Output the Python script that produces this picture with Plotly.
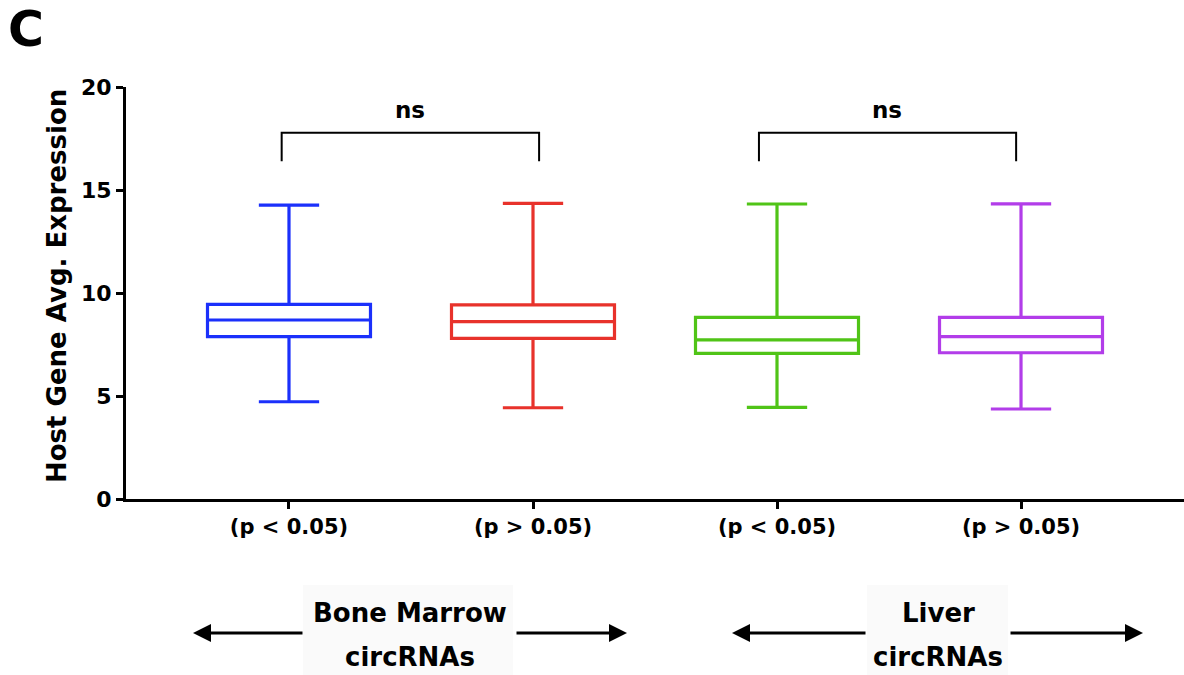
import plotly.graph_objects as go

# Box summary statistics per group
categories = ["(p < 0.05)", "(p > 0.05)", "(p < 0.05)", "(p > 0.05)"]
lower_whisker = [4.72, 4.43, 4.45, 4.37]
q1 = [7.88, 7.80, 7.07, 7.10]
median = [8.69, 8.61, 7.72, 7.88]
q3 = [9.45, 9.42, 8.82, 8.82]
upper_whisker = [14.27, 14.35, 14.32, 14.33]

y_ticks = [0, 5, 10, 15, 20]
group_lines = [("Bone Marrow", "circRNAs"), ("Liver", "circRNAs")]

colors = ["#1b30fb", "#e8322b", "#50c417", "#b23de9"]
FONT = "DejaVu Sans"

# pixel helpers for the plotting area (left 126, bottom 499, 1058 x 412)
def px_x(p):
    return (p - 289) / 244

def px_py(p):
    return (499 - p) / 412

def px_px(p):
    return (p - 126) / 1058

fig = go.Figure()
for i, cat in enumerate(categories):
    fig.add_trace(go.Box(
        x=[i],
        q1=[q1[i]], median=[median[i]], q3=[q3[i]],
        lowerfence=[lower_whisker[i]], upperfence=[upper_whisker[i]],
        width=0.668, whiskerwidth=0.37,
        line=dict(color=colors[i], width=3.2),
        fillcolor="rgba(0,0,0,0)",
        boxpoints=False, hoverinfo="skip", showlegend=False,
    ))

# significance brackets
brackets = [(-0.03, 1.025, 0.496), (1.926, 2.98, 2.45)]
for x0, x1, xm in brackets:
    fig.add_shape(type="path",
                  path=f"M {x0} 16.4 L {x0} 17.78 L {x1} 17.78 L {x1} 16.4",
                  line=dict(color="black", width=2), xref="x", yref="y")
    fig.add_annotation(x=xm, y=18.9, xref="x", yref="y", text="ns", showarrow=False,
                       font=dict(family=FONT, size=23, color="black", weight="bold"))

# group labels with arrows below the axis
group_specs = [
    (410, 303, 513, 193, 304, 515, 627),
    (938, 867, 1008, 732, 867, 1009, 1143),
]
arrow_y = px_py(633)
for (xc, bg0, bg1, l_head, l_tail, r_tail, r_head), (line1, line2) in zip(group_specs, group_lines):
    fig.add_shape(type="rect", xref="x", yref="paper",
                  x0=px_x(bg0), x1=px_x(bg1), y0=px_py(676), y1=px_py(585),
                  line=dict(width=0), fillcolor="#fafafa", layer="below")
    for text, yp in [(line1, 613), (line2, 657)]:
        fig.add_annotation(x=px_x(xc), y=px_py(yp), xref="x", yref="paper", text=text,
                           showarrow=False, yanchor="middle",
                           font=dict(family=FONT, size=26, color="black", weight="bold"))
    for head, tail in [(l_head, l_tail), (r_head, r_tail)]:
        fig.add_annotation(x=px_x(head), y=arrow_y, ax=px_x(tail), ay=0,
                           xref="x", yref="paper", axref="x", ayref="pixel",
                           text="", showarrow=True, arrowhead=2, arrowsize=1.2,
                           arrowwidth=3, arrowcolor="black")

# y-axis title and panel letter
fig.add_annotation(x=px_px(57), y=px_py(286), xref="paper", yref="paper",
                   xanchor="center", yanchor="middle",
                   text="Host Gene Avg. Expression", textangle=-90, showarrow=False,
                   font=dict(family=FONT, size=26, color="black", weight="bold"))
fig.add_annotation(x=px_px(26), y=px_py(29), xref="paper", yref="paper",
                   xanchor="center", yanchor="middle",
                   text="C", showarrow=False,
                   font=dict(family=FONT, size=49, color="black", weight="bold"))

fig.update_layout(
    width=1184, height=675,
    margin=dict(l=126, r=0, t=87, b=176),
    plot_bgcolor="white", paper_bgcolor="white",
    font=dict(family=FONT, color="black"),
    xaxis=dict(range=[-0.668, 3.668], tickvals=list(range(len(categories))),
               ticktext=categories, showgrid=False, zeroline=False,
               showline=True, linecolor="black", linewidth=3,
               ticks="outside", ticklen=7, tickwidth=3, tickcolor="black",
               tickfont=dict(family=FONT, size=21, weight="bold"),
               fixedrange=True),
    yaxis=dict(range=[0, 20], tickvals=y_ticks, showgrid=False, zeroline=False,
               showline=True, linecolor="black", linewidth=3,
               ticks="outside", ticklen=7, tickwidth=3, tickcolor="black",
               tickfont=dict(family=FONT, size=22, weight="bold"),
               fixedrange=True),
)

fig.write_html("out.html")
